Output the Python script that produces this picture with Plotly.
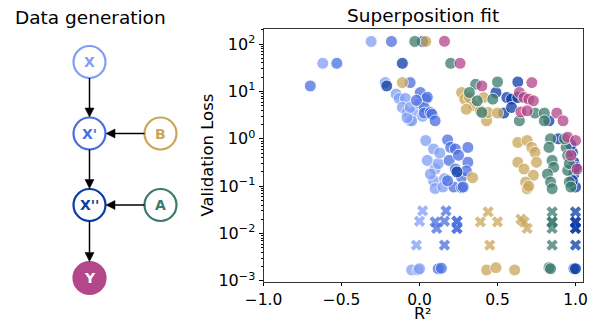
import plotly.graph_objects as go

# ---------------------------------------------------------------
# Fitted runs: R^2 of the superposition fit vs. validation loss
# (circles = standard runs, crosses = low-loss runs)
# ---------------------------------------------------------------
X_R2 = [-0.31, -0.62, -0.22, -0.15, -0.13, -0.09, -0.11, -0.08, -0.04, -0.06,
        -0.05, -0.08, -0.06, 0.00, 0.02, 0.04, 0.09, 0.05, 0.10, 0.09,
        0.10, 0.16, 0.15, 0.12, 0.07, 0.13, -0.05, -0.01, 0.00]
X_LOSS = [114, 39.4, 15.4, 8.8, 7.1, 7.1, 4.6, 3.6, 3.6, 2.4,
          2.4, 2.8, 4.6, 5.5, 3.0, 0.92, 0.61, 0.35, 0.23, 0.13,
          0.089, 0.144, 0.096, 0.30, 0.18, 0.50, 0.0017, 0.0017, 0.0018]

XP_R2 = [-0.18, -0.53, -0.70, -0.06, 0.005, 0.04, 0.03, 0.03, 0.07, 0.08,
         0.10, 0.05, -0.02, 0.18, 0.20, 0.23, 0.31, 0.19, 0.31, 0.23,
         0.27, 0.22, 0.27, 0.28, 0.30, 0.18, 0.25, 0.12, 0.14]
XP_LOSS = [114, 39.4, 13.1, 15.4, 9.5, 6.9, 4.6, 3.5, 3.6, 3.3,
           2.4, 7.6, 6.5, 0.95, 0.66, 0.61, 0.66, 0.35, 0.32, 0.23,
           0.155, 0.096, 0.093, 0.096, 0.21, 0.13, 0.45, 0.0018, 0.00185]

XPP_R2 = [0.02, -0.11, -0.21, 0.49, 0.63, 0.56, 0.59, 0.63, 0.54, 0.59,
          0.83, 0.89, 0.98, 0.99, 0.99, 1.00, 0.99, 1.00, 0.24, 0.97,
          1.00, 0.98]
XPP_LOSS = [114, 39.4, 13.1, 9.5, 15.9, 7.45, 6.9, 7.45, 3.5, 4.6,
            2.4, 1.0, 0.52, 0.32, 0.18, 0.096, 0.0018, 0.0018, 0.20, 0.75,
            0.25, 0.13]

B_R2 = [0.04, -0.11, 0.27, 0.29, 0.32, 0.35, 0.39, 0.41, 0.43, 0.44,
        0.50, 0.30, 0.63, 0.69, 0.72, 0.74, 0.63, 0.67, 0.75, 0.73,
        0.68, 0.69, 0.70, 0.34, 0.43, 0.49, 0.61]
B_LOSS = [114, 15.4, 9.5, 6.9, 7.45, 4.98, 3.9, 7.45, 2.4, 3.6,
          3.5, 4.2, 0.84, 0.92, 0.66, 0.52, 0.32, 0.23, 0.32, 0.17,
          0.122, 0.0885, 0.10, 0.151, 0.0017, 0.0019, 0.0017]

A_R2 = [-0.03, 0.20, 0.36, 0.50, 0.32, 0.47, 0.40, 0.37, 0.64, 0.74,
        0.80, 0.80, 0.84, 0.83, 0.85, 0.86, 0.82, 0.84, 0.85, 0.94,
        0.95, 0.95, 0.96, 0.97, 0.83, 0.84, 0.93, 0.96]
A_LOSS = [114, 39.4, 14.2, 15.9, 9.5, 6.9, 3.6, 6.35, 2.4, 3.5,
          3.5, 2.4, 1.0, 0.66, 0.35, 0.25, 0.18, 0.122, 0.0885, 0.66,
          0.44, 0.215, 0.122, 0.096, 0.0019, 0.0018, 1.0, 0.30]

Y_R2 = [0.16, 0.26, 0.40, 0.72, 0.64, 0.67, 0.70, 0.73, 0.65, 0.69,
        0.88, 0.92, 0.95, 1.01, 1.00, 0.97]
Y_LOSS = [115, 39.4, 13.1, 15.4, 9.5, 7.45, 6.9, 6.35, 3.7, 3.9,
          3.5, 2.4, 1.08, 0.23, 0.92, 0.45]

# low-loss runs (cross markers)
X_LOW_R2 = [0.02, 0.00, -0.02]
X_LOW_LOSS = [0.030, 0.0182, 0.0057]
XP_LOW_R2 = [0.17, 0.16, 0.10, 0.11, 0.16, 0.24, 0.24, 0.24, 0.24]
XP_LOW_LOSS = [0.030, 0.0182, 0.0176, 0.0128, 0.0057, 0.0182, 0.0128, 0.0182, 0.0128]
XPP_LOW_R2 = [1.00, 1.00, 1.00, 1.00, 1.00, 1.00]
XPP_LOW_LOSS = [0.0286, 0.0176, 0.0128, 0.0057, 0.0176, 0.0128]
B_LOW_R2 = [0.44, 0.39, 0.50, 0.67, 0.69, 0.65, 0.45]
B_LOW_LOSS = [0.0286, 0.0176, 0.0176, 0.0176, 0.0128, 0.020, 0.0057]
A_LOW_R2 = [0.85, 0.85, 0.85, 0.85, 0.85]
A_LOW_LOSS = [0.0286, 0.0176, 0.0128, 0.0057, 0.0176]

X_TICKS = [-1.0, -0.5, 0.0, 0.5, 1.0]
Y_TICKS = [1e-3, 1e-2, 1e-1, 1e0, 1e1, 1e2]
Y_TICK_TEXT = ["10<sup>\u22123</sup>", "10<sup>\u22122</sup>", "10<sup>\u22121</sup>",
               "10<sup>0</sup>", "10<sup>1</sup>", "10<sup>2</sup>"]

COLORS = {
    "X": "#7F9EF5",
    "X'": "#4A6EE0",
    "X''": "#0B3BA6",
    "B": "#C9A65A",
    "A": "#3B7A6E",
    "Y": "#B4468A",
}

W, H = 598, 322
FONT = "DejaVu Sans"

fig = go.Figure()

circle_sets = [
    ("X", X_R2, X_LOSS),
    ("X'", XP_R2, XP_LOSS),
    ("X''", XPP_R2, XPP_LOSS),
    ("B", B_R2, B_LOSS),
    ("A", A_R2, A_LOSS),
    ("Y", Y_R2, Y_LOSS),
]
cross_sets = [
    ("X", X_LOW_R2, X_LOW_LOSS),
    ("X'", XP_LOW_R2, XP_LOW_LOSS),
    ("X''", XPP_LOW_R2, XPP_LOW_LOSS),
    ("B", B_LOW_R2, B_LOW_LOSS),
    ("A", A_LOW_R2, A_LOW_LOSS),
]

for name, r2, loss in circle_sets:
    fig.add_trace(go.Scatter(
        x=r2, y=loss, mode="markers", name=name, showlegend=False,
        hoverinfo="skip",
        marker=dict(symbol="circle", size=12, color=COLORS[name], opacity=0.75,
                    line=dict(color="white", width=1)),
    ))

for name, r2, loss in cross_sets:
    fig.add_trace(go.Scatter(
        x=r2, y=loss, mode="markers", name=name, showlegend=False,
        hoverinfo="skip",
        marker=dict(symbol="x", size=10, color=COLORS[name], opacity=0.75,
                    line=dict(width=0)),
    ))


def px(x):
    return x / W


def py(y):
    return 1 - y / H


# ---------------------------------------------------------------
# Causal diagram of the data-generating process (pixel layout)
# ---------------------------------------------------------------
NODE_R = 16
nodes = {
    "X": dict(cx=89.5, cy=62, label="X", filled=False),
    "X'": dict(cx=89.5, cy=133.5, label="X'", filled=False),
    "X''": dict(cx=89.5, cy=205, label="X''", filled=False),
    "Y": dict(cx=89.5, cy=278, label="Y", filled=True),
    "B": dict(cx=160.5, cy=133.5, label="B", filled=False),
    "A": dict(cx=160.5, cy=205, label="A", filled=False),
}
edges = [("X", "X'"), ("X'", "X''"), ("X''", "Y"), ("B", "X'"), ("A", "X''")]

shapes = []
annotations = []

for key, n in nodes.items():
    col = COLORS[key]
    shapes.append(dict(
        type="circle", xref="paper", yref="paper",
        x0=px(n["cx"] - NODE_R), x1=px(n["cx"] + NODE_R),
        y0=py(n["cy"] + NODE_R), y1=py(n["cy"] - NODE_R),
        line=dict(color=col, width=2.2),
        fillcolor=col if n["filled"] else "white",
    ))
    annotations.append(dict(
        x=px(n["cx"]), y=py(n["cy"]), xref="paper", yref="paper",
        text="<b>%s</b>" % n["label"], showarrow=False,
        font=dict(family=FONT, size=14, color="white" if n["filled"] else col),
        xanchor="center", yanchor="middle",
    ))

HEAD_L, HEAD_W = 9, 4.5
for a, b in edges:
    na, nb = nodes[a], nodes[b]
    dx, dy = nb["cx"] - na["cx"], nb["cy"] - na["cy"]
    d = (dx * dx + dy * dy) ** 0.5
    ux, uy = dx / d, dy / d
    sx, sy = na["cx"] + ux * NODE_R, na["cy"] + uy * NODE_R
    tx, ty = nb["cx"] - ux * (NODE_R + 0.5), nb["cy"] - uy * (NODE_R + 0.5)
    bx, by = tx - ux * HEAD_L, ty - uy * HEAD_L
    shapes.append(dict(
        type="line", xref="paper", yref="paper",
        x0=px(sx), y0=py(sy), x1=px(bx), y1=py(by),
        line=dict(color="black", width=1.5),
    ))
    nx, ny = -uy, ux
    p1 = (bx + nx * HEAD_W, by + ny * HEAD_W)
    p2 = (bx - nx * HEAD_W, by - ny * HEAD_W)
    path = "M %f %f L %f %f L %f %f Z" % (
        px(tx), py(ty), px(p1[0]), py(p1[1]), px(p2[0]), py(p2[1]))
    shapes.append(dict(
        type="path", xref="paper", yref="paper", path=path,
        fillcolor="black", line=dict(color="black", width=0.5),
    ))

# titles and axis labels
annotations += [
    dict(x=px(90), y=py(17), xref="paper", yref="paper", text="Data generation",
         showarrow=False, font=dict(family=FONT, size=18.5, color="black"),
         xanchor="center", yanchor="middle"),
    dict(x=px(423), y=py(16), xref="paper", yref="paper", text="Superposition fit",
         showarrow=False, font=dict(family=FONT, size=18.5, color="black"),
         xanchor="center", yanchor="middle"),
    dict(x=px(423), y=py(313), xref="paper", yref="paper", text="R\u00b2",
         showarrow=False, font=dict(family=FONT, size=16, color="black"),
         xanchor="center", yanchor="middle", borderpad=0),
    dict(x=px(207), y=py(155.5), xref="paper", yref="paper", text="Validation Loss",
         showarrow=False, textangle=-90, font=dict(family=FONT, size=16.5, color="black"),
         xanchor="center", yanchor="middle"),
]

minor_vals = [m * 10.0 ** e for e in range(-3, 3) for m in range(2, 10)]

fig.update_layout(
    width=W, height=H,
    margin=dict(l=0, r=0, t=0, b=0, pad=0),
    paper_bgcolor="white", plot_bgcolor="white",
    font=dict(family=FONT, color="black"),
    showlegend=False,
    shapes=shapes,
    annotations=annotations,
    xaxis=dict(
        domain=[263.5 / W, 582.7 / W],
        range=[-1.0, 1.046],
        automargin=False,
        tickmode="array", tickvals=X_TICKS, tickformat=".1f",
        ticks="outside", ticklen=3, tickwidth=1, tickcolor="black",
        showline=True, linecolor="#333333", linewidth=1, mirror=True,
        showgrid=False, zeroline=False,
        tickfont=dict(family=FONT, size=15.5, color="black"),
    ),
    yaxis=dict(
        type="log",
        domain=[1 - 282.3 / H, 1 - 29 / H],
        range=[-3.03, 2.32],
        automargin=False,
        tickmode="array", tickvals=Y_TICKS, ticktext=Y_TICK_TEXT,
        ticks="outside", ticklen=4, tickwidth=1, tickcolor="black",
        minor=dict(tickmode="array", tickvals=minor_vals, ticks="outside",
                   ticklen=2, tickwidth=0.8, tickcolor="black", showgrid=False),
        showline=True, linecolor="#333333", linewidth=1, mirror=True,
        showgrid=False, zeroline=False,
        tickfont=dict(family=FONT, size=16, color="black"),
    ),
)

fig.write_html("out.html")
